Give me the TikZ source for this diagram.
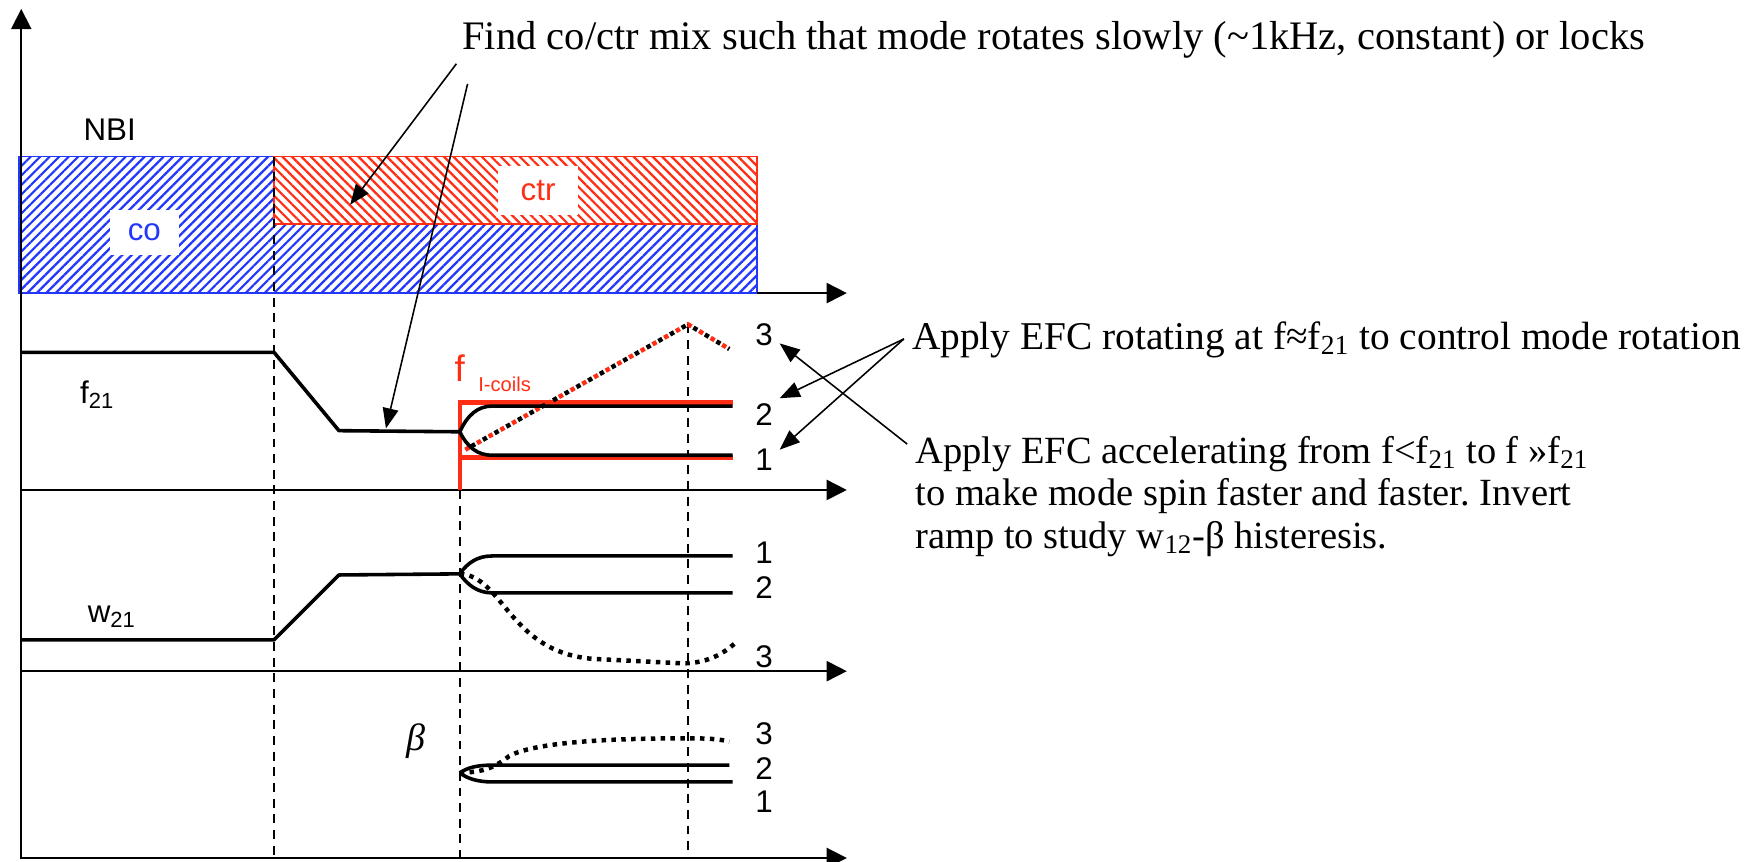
\documentclass[tikz,border=0pt]{standalone}
\usepackage{fontspec}
\setmainfont{Liberation Serif}
\setsansfont{Liberation Sans}
\usetikzlibrary{arrows.meta, patterns.meta, positioning}

\definecolor{nbiblue}{RGB}{35,55,250}
\definecolor{ctrred}{RGB}{255,45,20}
\frenchspacing

\begin{document}
\begin{tikzpicture}[x=0.5pt, y=-0.5pt, >={Triangle[length=9pt,width=9pt]}]
    % Style definitions
    \tikzset{axis/.style={line width=0.8pt, ->}}
    \tikzset{trace/.style={line width=1.6pt, line join=round}}
    \tikzset{dotline/.style={line width=2pt, dash pattern=on 2pt off 2.4pt}}
    \tikzset{guide/.style={line width=0.7pt, dash pattern=on 4pt off 3pt}}
    \tikzset{coil/.style={ctrred, line width=2pt}}
    \tikzset{note/.style={font=\fontsize{17.6}{19}\selectfont, inner sep=0pt, anchor=base west, align=left}}
    \tikzset{lbl/.style={font=\sffamily\fontsize{14}{16}\selectfont, inner sep=0pt}}
    \tikzset{tag/.style={fill=white, inner sep=0pt, font=\sffamily\fontsize{14}{16}\selectfont}}
    \tikzset{pointer/.style={line width=0.7pt, -{Triangle[length=9pt,width=7pt]}}}

    \useasboundingbox (0,0) rectangle (1568,770);

    % NBI boxes
    \draw[nbiblue, line width=0.8pt, pattern={Lines[angle=45,distance=3pt,line width=1pt]}, pattern color=nbiblue] (17,140) rectangle (677,262);
    \draw[ctrred, line width=0.8pt, fill=white, postaction={pattern={Lines[angle=-45,distance=3pt,line width=1pt]}, pattern color=ctrred}] (245,140) rectangle (677,200);
    \node[tag, text=nbiblue, minimum width=31pt, minimum height=20pt] (co) at (129,208) {co};
    \node[tag, text=ctrred, minimum width=36pt, minimum height=22pt] (ctr) at (481,170) {ctr};
    \node[lbl] (nbi) at (98,116) {NBI};

    % Axes
    \draw[axis] (19,767) -- (19,8);
    \draw[axis] (677,262) -- (757,262);
    \foreach \y in {438,600,767}
        \draw[axis] (18,\y) -- (757,\y);

    % Time markers
    \draw[guide] (245,140) -- (245,767);
    \draw[guide] (411,438) -- (411,767);
    \draw[guide] (615,290) -- (615,767);

    % f21 panel
    \draw[coil] (655,360) -- (411,360) -- (411,438);
    \draw[coil] (411,409) -- (655,409);
    \draw[ctrred, line width=2pt, dash pattern=on 2pt off 4pt] (416,402) -- (615,290) -- (652,312);
    \draw[line width=2pt, dash pattern=on 2pt off 4pt, dash phase=3pt] (416,402) -- (615,290) -- (652,312);
    \draw[trace] (19,315) -- (245,315) -- (303,385) -- (411,386);
    \draw[trace] (411,386) .. controls (418,371) and (427,363) .. (440,363) -- (655,363);
    \draw[trace] (411,386) .. controls (418,400) and (427,407) .. (440,407) -- (655,407);
    \node[lbl] (f21) at (87,353) {f\textsubscript{21}};
    \node[lbl, text=ctrred, anchor=base west, font=\sffamily\fontsize{16.5}{18}\selectfont] (fcoil) at (406,341) {f\hspace{6pt}\raisebox{-4.5pt}{\fontsize{9}{10}\selectfont I-coils}};
    \node[lbl] (fthree) at (683,299) {3};
    \node[lbl] (ftwo) at (683,371) {2};
    \node[lbl] (fone) at (683,411) {1};

    % w21 panel
    \draw[dotline] (411,513) .. controls (450,515) and (455,583) .. (530,589) -- (610,593) .. controls (630,593) and (645,586) .. (657,575);
    \draw[trace] (19,572) -- (245,572) -- (303,514) -- (411,513);
    \draw[trace] (411,513) .. controls (418,503) and (427,497) .. (440,497) -- (655,497);
    \draw[trace] (411,513) .. controls (418,523) and (427,530) .. (440,530) -- (655,530);
    \node[lbl] (w21) at (100,551) {w\textsubscript{21}};
    \node[lbl] (wone) at (683,494) {1};
    \node[lbl] (wtwo) at (683,525) {2};
    \node[lbl] (wthree) at (683,587) {3};

    % beta panel
    \draw[dotline] (411,691) .. controls (430,690) and (440,688) .. (455,676) .. controls (480,662) and (560,660) .. (615,660) .. controls (635,660) and (645,661) .. (652,663);
    \draw[trace] (411,691) .. controls (418,686) and (427,684) .. (440,684) -- (652,684);
    \draw[trace] (411,691) .. controls (418,696) and (427,699) .. (440,699) -- (655,699);
    \node[font=\fontsize{17}{18}\selectfont\itshape, inner sep=0pt] (beta) at (372,663) {β};
    \node[lbl] (bthree) at (683,656) {3};
    \node[lbl] (btwo) at (683,687) {2};
    \node[lbl] (bone) at (683,717) {1};

    % Annotations
    \node[note, font=\fontsize{18.1}{19}\selectfont] (findtxt) at (413,44) {Find co/ctr mix such that mode rotates slowly (\textasciitilde1kHz, constant) or locks};
    \node[note] (rottxt) at (815,312) {Apply EFC rotating at f≈f\textsubscript{21} to control mode rotation};
    \node[note, font=\fontsize{17.2}{19}\selectfont] (acctxt) at (818,490) {Apply EFC accelerating from f<f\textsubscript{21} to f »f\textsubscript{21}\\to make mode spin faster and faster. Invert\\ramp to study w\textsubscript{12}-β histeresis.};

    \coordinate (findA) at (408,57);
    \coordinate (findB) at (418,75);
    \coordinate (mixtip) at (313,183);
    \coordinate (slowtip) at (345,383);
    \coordinate (rotA) at (808,303);
    \coordinate (accA) at (811,397);
    \coordinate (tiptwo) at (697,356);
    \coordinate (tipone) at (697,402);
    \coordinate (tipthree) at (697,307);

    \draw[pointer] (findA) -- (mixtip);
    \draw[pointer] (findB) -- (slowtip);
    \draw[pointer] (rotA) -- (tiptwo);
    \draw[pointer] (rotA) -- (tipone);
    \draw[pointer] (accA) -- (tipthree);
\end{tikzpicture}
\end{document}
